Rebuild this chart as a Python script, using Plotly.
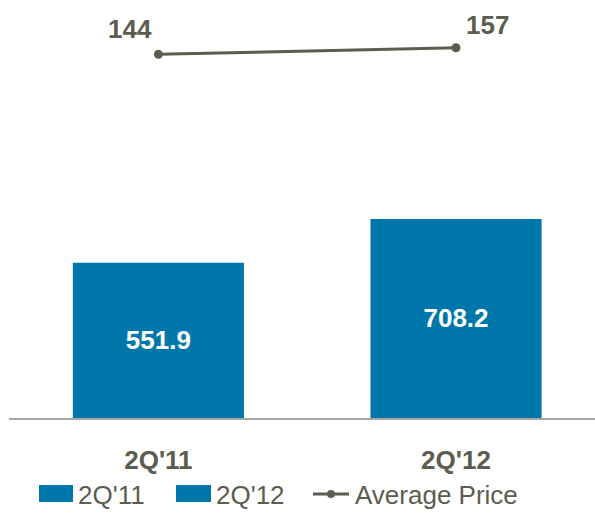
import plotly.graph_objects as go

categories = ["2Q'11", "2Q'12"]
volume = [551.9, 708.2]
avg_price = [144, 157]
series_names = ["2Q'11", "2Q'12"]
line_name = "Average Price"

BAR = "#0077aa"
GRAY = "#5c5c4f"
FONT = "Liberation Sans, Arial, sans-serif"

W, H = 595, 513
L, R, T, B = 9, 0, 0, 95
PH = H - T - B

fig = go.Figure()
for i, cat in enumerate(categories):
    fig.add_trace(go.Bar(
        x=[cat], y=[volume[i]], name=series_names[i],
        marker=dict(color=BAR, line=dict(width=0)),
        width=0.575,
        text=[f"{volume[i]:.1f}"], textposition="inside",
        insidetextanchor="middle",
        textfont=dict(family=FONT, size=26, color="white", weight="bold"),
        showlegend=False, yaxis="y",
    ))

fig.add_trace(go.Scatter(
    x=categories, y=avg_price, name=line_name, mode="lines+markers",
    line=dict(color=GRAY, width=3), marker=dict(color=GRAY, size=9),
    yaxis="y2", showlegend=False,
))

# price labels
shifts = [(-28, 25), (31, 23)]
for i, cat in enumerate(categories):
    fig.add_annotation(x=cat, y=avg_price[i], yref="y2", text=f"<b>{avg_price[i]}</b>",
                       showarrow=False, xshift=shifts[i][0], yshift=shifts[i][1],
                       font=dict(family=FONT, size=26, color=GRAY))

# custom legend
def py(p):
    return (H - B - p) / PH

LEG_Y = 495
items = [
    ("bar", 39, 73, 76, series_names[0]),
    ("bar", 176, 211, 214, series_names[1]),
    ("line", 313, 349, 353, line_name),
]
for kind, x0, x1, tx, label in items:
    fx0 = (x0 - L) / (W - L - R)
    fx1 = (x1 - L) / (W - L - R)
    if kind == "bar":
        fig.add_shape(type="rect", xref="paper", yref="paper", x0=fx0, x1=fx1,
                      y0=py(LEG_Y + 7), y1=py(LEG_Y - 10), fillcolor=BAR, line=dict(width=0))
    else:
        fig.add_shape(type="line", xref="paper", yref="paper", x0=fx0, x1=fx1,
                      y0=py(LEG_Y - 1), y1=py(LEG_Y - 1), line=dict(color=GRAY, width=3))
        cx = (x0 + x1) / 2
        fig.add_shape(type="circle", xref="paper", yref="paper",
                      x0=(cx - 4 - L) / (W - L - R), x1=(cx + 4 - L) / (W - L - R),
                      y0=py(LEG_Y + 3), y1=py(LEG_Y - 5), fillcolor=GRAY, line=dict(width=0))
    fig.add_annotation(xref="paper", yref="paper", x=(tx - L) / (W - L - R), y=py(LEG_Y),
                       xanchor="left", yanchor="middle", text=label, showarrow=False,
                       font=dict(family=FONT, size=26, color=GRAY))

fig.update_layout(
    width=W, height=H, margin=dict(l=L, r=R, t=T, b=B),
    paper_bgcolor="white", plot_bgcolor="white",
    barmode="overlay",
    xaxis=dict(range=[-0.502, 1.467], showgrid=False, zeroline=False,
               showline=True, linecolor="#a6a6a6", linewidth=2,
               tickfont=dict(family=FONT, size=26, color=GRAY, weight="bold"),
               ticks="", ticklabelstandoff=18),
    yaxis=dict(range=[0, 1487], visible=False, showgrid=False, zeroline=False),
    yaxis2=dict(range=[-572.4, 251], overlaying="y", visible=False, showgrid=False, zeroline=False),
    showlegend=False,
)

fig.write_html("out.html")
